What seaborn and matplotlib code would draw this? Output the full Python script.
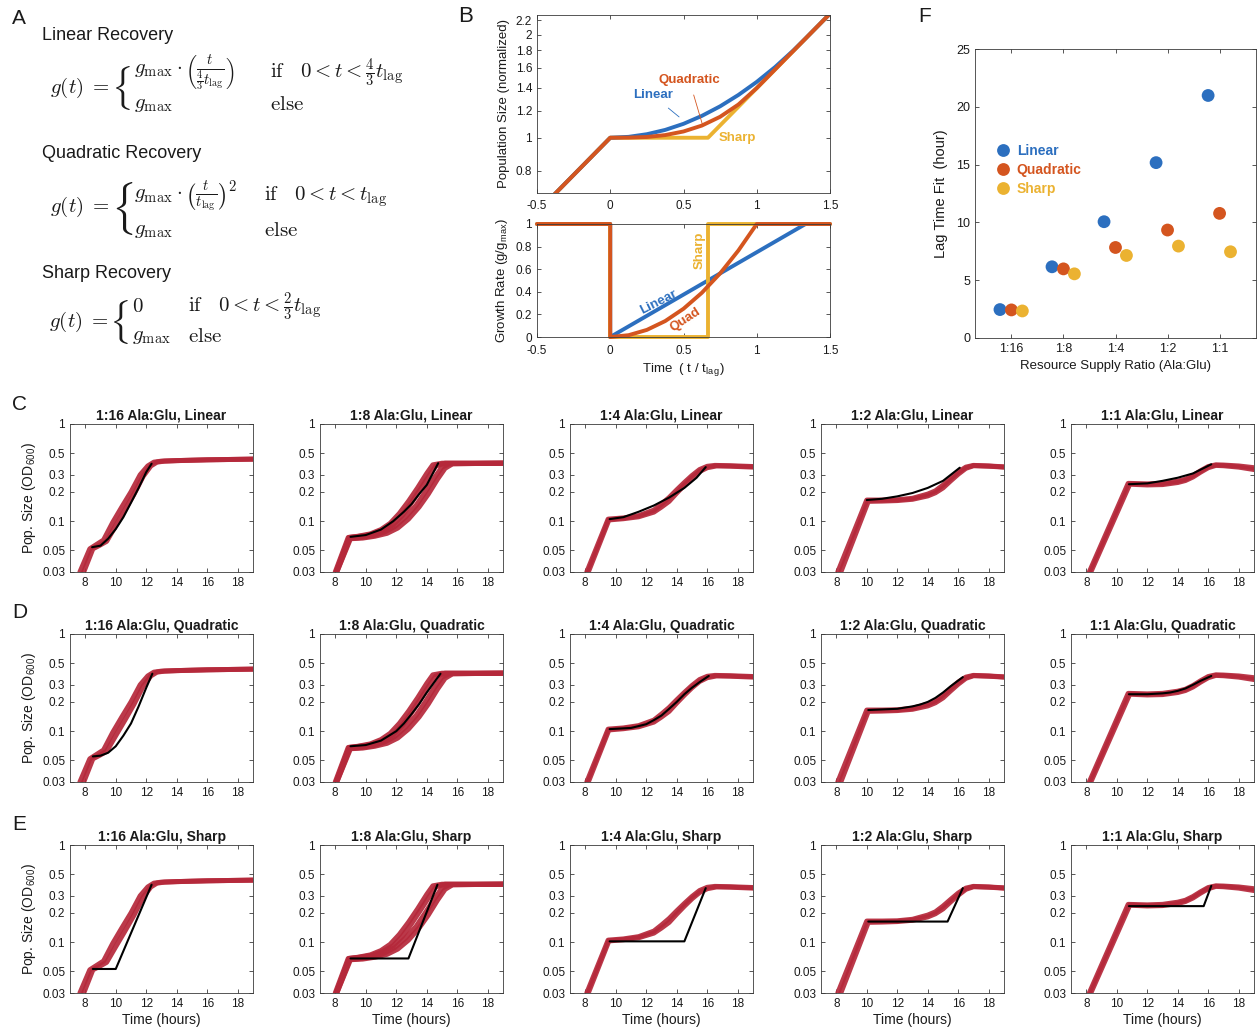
import numpy as np
import pandas as pd
import matplotlib.pyplot as plt
import seaborn as sns

# -----------------------------
# Data
# -----------------------------
ratios = ["1:16", "1:8", "1:4", "1:2", "1:1"]
models = ["Linear", "Quadratic", "Sharp"]

# panel B, top: normalized population size vs t / t_lag
b_lin_t = [-0.5, 0, 0.125, 0.25, 0.375, 0.5, 0.625, 0.75, 0.875, 1.0, 1.125, 1.25, 1.333, 1.5]
b_lin_n = [0.607, 1.0, 1.006, 1.024, 1.054, 1.098, 1.158, 1.235, 1.333, 1.455, 1.607, 1.797, 1.948, 2.30]
b_quad_t = [-0.5, 0, 0.125, 0.25, 0.375, 0.5, 0.625, 0.75, 0.875, 1.0, 1.25, 1.5]
b_quad_n = [0.607, 1.0, 1.001, 1.005, 1.018, 1.043, 1.085, 1.151, 1.250, 1.396, 1.792, 2.30]
b_sharp_t = [-0.5, 0, 0.667, 1.5]
b_sharp_n = [0.607, 1.0, 1.0, 2.30]

# panel B, bottom: growth rate g / g_max
g_lin_t = [-0.5, 0, 0, 1.333, 1.5]
g_lin = [1, 1, 0, 1, 1]
g_quad_t = [-0.5, 0, 0, 0.125, 0.25, 0.375, 0.5, 0.625, 0.75, 0.875, 1.0, 1.5]
g_quad = [1, 1, 0, 0.016, 0.063, 0.141, 0.25, 0.391, 0.563, 0.766, 1, 1]
g_sharp_t = [-0.5, 0, 0, 0.667, 0.667, 1.5]
g_sharp = [1, 1, 0, 0, 1, 1]

# panel F: fitted lag times (hours)
lag_linear = [2.46, 6.16, 10.06, 15.17, 20.98]
lag_quadratic = [2.43, 5.98, 7.83, 9.34, 10.78]
lag_sharp = [2.34, 5.55, 7.14, 7.95, 7.46]

# panels C-E: measured OD600 replicates, one list of replicates per ratio
rep_t_116 = [[7.65, 8.3, 8.7, 9.2, 9.8, 10.4, 11.0, 11.6, 12.1, 12.5, 13.0, 14.0, 16.0, 19.0],
             [7.9, 8.5, 8.9, 9.4, 10.0, 10.6, 11.2, 11.8, 12.3, 12.7, 13.2, 14.0, 16.0, 19.0]]
rep_od_116 = [[0.03, 0.052, 0.057, 0.064, 0.097, 0.14, 0.2, 0.3, 0.37, 0.405, 0.415, 0.42, 0.428, 0.435],
              [0.03, 0.052, 0.056, 0.062, 0.09, 0.13, 0.19, 0.29, 0.37, 0.405, 0.415, 0.42, 0.428, 0.435]]

rep_t_18 = [[8.0, 8.85, 9.5, 10.3, 11.0, 11.6, 12.2, 12.8, 13.4, 14.0, 14.4, 15.0, 19.0],
            [8.05, 8.9, 9.6, 10.4, 11.1, 11.8, 12.4, 13.0, 13.6, 14.2, 14.6, 15.2, 19.0],
            [8.1, 8.95, 9.7, 10.5, 11.2, 11.9, 12.6, 13.3, 13.9, 14.5, 15.0, 15.5, 19.0],
            [8.1, 9.0, 9.8, 10.6, 11.4, 12.1, 12.8, 13.5, 14.1, 14.7, 15.2, 15.7, 19.0]]
rep_od_18 = [[0.03, 0.068, 0.07, 0.074, 0.082, 0.095, 0.12, 0.16, 0.22, 0.31, 0.38, 0.395, 0.395],
             [0.03, 0.068, 0.07, 0.073, 0.08, 0.092, 0.115, 0.155, 0.215, 0.3, 0.37, 0.395, 0.395],
             [0.03, 0.066, 0.068, 0.071, 0.077, 0.088, 0.11, 0.145, 0.2, 0.28, 0.36, 0.39, 0.395],
             [0.03, 0.066, 0.067, 0.07, 0.075, 0.085, 0.105, 0.14, 0.19, 0.27, 0.35, 0.39, 0.395]]

rep_t_14 = [[8.1, 9.5, 10.5, 11.5, 12.5, 13.0, 13.5, 14.0, 14.5, 15.0, 15.5, 16.0, 16.5, 17.5, 19.0],
            [8.2, 9.55, 10.5, 11.5, 12.5, 13.0, 13.5, 14.0, 14.5, 15.0, 15.5, 16.0, 16.6, 17.5, 19.0]]
rep_od_14 = [[0.03, 0.105, 0.108, 0.114, 0.13, 0.15, 0.175, 0.21, 0.25, 0.295, 0.34, 0.367, 0.375, 0.372, 0.365],
             [0.03, 0.103, 0.106, 0.111, 0.124, 0.14, 0.16, 0.195, 0.235, 0.28, 0.325, 0.355, 0.37, 0.368, 0.36]]

rep_t_12 = [[8.1, 10.0, 11, 12, 13, 14, 14.5, 15, 15.5, 16, 16.5, 17, 18, 19],
            [8.3, 10.1, 11, 12, 13, 14, 14.5, 15, 15.5, 16, 16.5, 17, 18, 19]]
rep_od_12 = [[0.03, 0.165, 0.165, 0.166, 0.172, 0.19, 0.205, 0.235, 0.275, 0.32, 0.36, 0.375, 0.37, 0.362],
             [0.03, 0.16, 0.161, 0.163, 0.168, 0.182, 0.196, 0.22, 0.26, 0.305, 0.35, 0.372, 0.368, 0.36]]

rep_t_11 = [[8.2, 10.75, 12, 13, 14, 14.5, 15, 15.5, 16, 16.5, 17, 18, 19],
            [8.3, 10.85, 12, 13, 14, 14.5, 15, 15.5, 16, 16.5, 17, 18, 19]]
rep_od_11 = [[0.03, 0.245, 0.242, 0.245, 0.258, 0.27, 0.295, 0.33, 0.365, 0.38, 0.378, 0.37, 0.355],
             [0.03, 0.24, 0.236, 0.238, 0.25, 0.262, 0.285, 0.32, 0.355, 0.375, 0.372, 0.36, 0.34]]

rep_times = [rep_t_116, rep_t_18, rep_t_14, rep_t_12, rep_t_11]
rep_ods = [rep_od_116, rep_od_18, rep_od_14, rep_od_12, rep_od_11]

# model fits (black), one curve per ratio
fit_lin_t = [[8.45, 9.0, 9.5, 10.0, 10.5, 11.0, 11.5, 12.0, 12.35],
             [9.0, 10.0, 11.0, 11.8, 12.5, 13.0, 13.5, 14.0, 14.75],
             [9.6, 10.5, 11.5, 12.5, 13.5, 14.5, 15.3, 15.9],
             [10.0, 11.0, 12.0, 13.0, 14.0, 15.0, 16.1],
             [10.8, 12.0, 13.0, 14.0, 15.0, 16.2]]
fit_lin_od = [[0.054, 0.056, 0.066, 0.083, 0.11, 0.155, 0.22, 0.32, 0.39],
              [0.069, 0.072, 0.082, 0.1, 0.125, 0.15, 0.19, 0.236, 0.395],
              [0.105, 0.11, 0.125, 0.145, 0.175, 0.22, 0.28, 0.36],
              [0.165, 0.17, 0.18, 0.195, 0.22, 0.26, 0.355],
              [0.24, 0.245, 0.26, 0.28, 0.31, 0.385]]

fit_quad_t = [[8.5, 9.0, 9.5, 10.0, 10.5, 11.0, 11.5, 12.0, 12.4],
              [9.0, 10.0, 11.0, 12.0, 12.5, 13.0, 13.5, 14.0, 14.5, 14.9],
              [9.6, 11.0, 12.0, 12.5, 13.0, 13.5, 14.0, 14.5, 15.0, 15.5, 16.1],
              [10.1, 12.0, 13.0, 13.5, 14.0, 14.5, 15.0, 15.5, 16.3],
              [10.8, 12.0, 13.0, 13.5, 14.0, 14.5, 15.0, 15.5, 16.2]]
fit_quad_od = [[0.055, 0.056, 0.06, 0.07, 0.09, 0.12, 0.18, 0.28, 0.39],
               [0.07, 0.072, 0.08, 0.1, 0.12, 0.15, 0.19, 0.25, 0.32, 0.39],
               [0.105, 0.108, 0.118, 0.13, 0.145, 0.17, 0.2, 0.24, 0.28, 0.32, 0.37],
               [0.165, 0.17, 0.18, 0.188, 0.2, 0.22, 0.25, 0.29, 0.36],
               [0.24, 0.24, 0.245, 0.25, 0.26, 0.275, 0.3, 0.33, 0.37]]

fit_sharp_t = [[8.5, 10.0, 12.35],
               [9.0, 12.8, 14.7],
               [9.6, 14.5, 15.9],
               [10.1, 15.3, 16.3],
               [10.8, 15.7, 16.2]]
fit_sharp_od = [[0.053, 0.053, 0.39],
                [0.068, 0.068, 0.39],
                [0.102, 0.102, 0.36],
                [0.163, 0.163, 0.36],
                [0.235, 0.235, 0.38]]

fit_times = [fit_lin_t, fit_quad_t, fit_sharp_t]
fit_ods = [fit_lin_od, fit_quad_od, fit_sharp_od]

# -----------------------------
# Style
# -----------------------------
BLUE = "#2c6fbf"
ORANGE = "#d4551f"
YELLOW = "#ebb231"
RED = "#b5283a"
EDGE = "#3a3a3a"

sns.set_style("ticks")
plt.rcParams["font.family"] = ["Liberation Sans", "DejaVu Sans"]
plt.rcParams["mathtext.fontset"] = "cm"
plt.rcParams["text.color"] = "#1a1a1a"
plt.rcParams["axes.labelcolor"] = "#1a1a1a"

W, H = 1257, 1033
fig = plt.figure(figsize=(W / 100, H / 100), dpi=100)


def px_axes(left, top, width, height):
    return fig.add_axes([left / W, 1 - (top + height) / H, width / W, height / H])


def px_text(x, y, s, **kw):
    kw.setdefault("va", "center")
    kw.setdefault("ha", "left")
    return fig.text(x / W, 1 - y / H, s, **kw)


def matlab_box(ax, size=8.5):
    for s in ax.spines.values():
        s.set_visible(True)
        s.set_linewidth(0.6)
        s.set_color(EDGE)
    ax.tick_params(direction="in", top=True, right=True, length=3, width=0.6,
                   color=EDGE, labelsize=size, labelcolor="#1a1a1a", pad=3.5)


def long_table(t_lists, y_lists):
    parts = [pd.DataFrame({"x": ts, "y": ys, "rep": k})
             for k, (ts, ys) in enumerate(zip(t_lists, y_lists))]
    return pd.concat(parts, ignore_index=True)


# -----------------------------
# Panel A: recovery models
# -----------------------------
px_text(12, 18, "A", fontsize=15)
heads = [("Linear Recovery", 35), ("Quadratic Recovery", 153), ("Sharp Recovery", 273)]
for txt, y in heads:
    px_text(42, y, txt, fontsize=13)

MS = 15
gmax = r"$g_{\mathrm{max}}$"
els = r"$\mathrm{else}$"
lhs = r"$g(t)\;=$"

# linear
px_text(50, 88, lhs, fontsize=MS)
px_text(111, 88, r"$\{$", fontsize=27)
px_text(134, 73, r"$g_{\mathrm{max}}\cdot\left(\frac{t}{\frac{4}{3}t_{\mathrm{lag}}}\right)$", fontsize=MS)
px_text(134, 104, gmax, fontsize=MS)
px_text(270, 73, r"$\mathrm{if}\quad 0<t<\frac{4}{3}t_{\mathrm{lag}}$", fontsize=MS)
px_text(270, 104, els, fontsize=MS)

# quadratic
px_text(50, 207, lhs, fontsize=MS)
px_text(111, 208, r"$\{$", fontsize=31)
px_text(134, 197, r"$g_{\mathrm{max}}\cdot\left(\frac{t}{t_{\mathrm{lag}}}\right)^2$", fontsize=MS)
px_text(134, 230, gmax, fontsize=MS)
px_text(264, 197, r"$\mathrm{if}\quad 0<t<t_{\mathrm{lag}}$", fontsize=MS)
px_text(264, 230, els, fontsize=MS)

# sharp
px_text(49, 322, lhs, fontsize=MS)
px_text(109, 322, r"$\{$", fontsize=27)
px_text(132, 307, r"$0$", fontsize=MS)
px_text(132, 337, gmax, fontsize=MS)
px_text(188, 307, r"$\mathrm{if}\quad 0<t<\frac{2}{3}t_{\mathrm{lag}}$", fontsize=MS)
px_text(188, 337, els, fontsize=MS)

# -----------------------------
# Panel B: model curves
# -----------------------------
px_text(458, 16, "B", fontsize=16)
axb1 = px_axes(537, 15, 293, 178)
axb1.set_yscale("log")
for ts, ys, col in [(b_sharp_t, b_sharp_n, YELLOW), (b_lin_t, b_lin_n, BLUE), (b_quad_t, b_quad_n, ORANGE)]:
    sns.lineplot(x=ts, y=ys, ax=axb1, color=col, lw=2.8, estimator=None, sort=False)
axb1.set_xlim(-0.5, 1.5)
axb1.set_ylim(0.69, 2.28)
axb1.minorticks_off()
b_yt = [0.8, 1, 1.2, 1.4, 1.6, 1.8, 2, 2.2]
axb1.set_yticks(b_yt)
axb1.set_yticklabels(["0.8", "1", "1.2", "1.4", "1.6", "1.8", "2", "2.2"])
axb1.set_xticks([-0.5, 0, 0.5, 1, 1.5])
axb1.set_xticklabels(["-0.5", "0", "0.5", "1", "1.5"])
axb1.set_ylabel("Population Size (normalized)", fontsize=9.5, labelpad=4)
matlab_box(axb1)
axb1.tick_params(axis="x", pad=5)
axb1.annotate("Quadratic", xy=(0.63, 1.09), xytext=(0.54, 1.47), color=ORANGE, fontsize=9.5,
              fontweight="bold", ha="center", va="center",
              arrowprops=dict(arrowstyle="-", color=ORANGE, lw=0.6, shrinkA=4, shrinkB=0))
axb1.annotate("Linear", xy=(0.47, 1.15), xytext=(0.29, 1.33), color=BLUE, fontsize=9.5,
              fontweight="bold", ha="center", va="center",
              arrowprops=dict(arrowstyle="-", color=BLUE, lw=0.6, shrinkA=4, shrinkB=0))
axb1.text(0.87, 1.0, "Sharp", color=YELLOW, fontsize=9.5, fontweight="bold", ha="center", va="center")

axb2 = px_axes(537, 224, 293, 113)
for ts, ys, col in [(g_lin_t, g_lin, BLUE), (g_sharp_t, g_sharp, YELLOW), (g_quad_t, g_quad, ORANGE)]:
    sns.lineplot(x=ts, y=ys, ax=axb2, color=col, lw=2.8, estimator=None, sort=False, clip_on=False)
axb2.set_xlim(-0.5, 1.5)
axb2.set_ylim(0, 1)
axb2.set_yticks([0, 0.2, 0.4, 0.6, 0.8, 1])
axb2.set_yticklabels(["0", "0.2", "0.4", "0.6", "0.8", "1"])
axb2.set_xticks([-0.5, 0, 0.5, 1, 1.5])
axb2.set_xticklabels(["-0.5", "0", "0.5", "1", "1.5"])
axb2.set_ylabel(r"Growth Rate (g/g$_{\mathregular{max}}$)", fontsize=9.5, labelpad=4)
axb2.set_xlabel(r"Time  ( t / t$_{\mathregular{lag}}$)", fontsize=9.5, labelpad=3)
matlab_box(axb2)
axb2.tick_params(axis="x", pad=6)
axb2.text(0.61, 0.77, "Sharp", color=YELLOW, fontsize=9.5, fontweight="bold", rotation=90,
          ha="center", va="center")
axb2.text(0.33, 0.31, "Linear", color=BLUE, fontsize=9.5, fontweight="bold", rotation=27,
          ha="center", va="center")
axb2.text(0.51, 0.15, "Quad", color=ORANGE, fontsize=9.5, fontweight="bold", rotation=33,
          ha="center", va="center")

# -----------------------------
# Panel F: lag time fits
# -----------------------------
px_text(918, 17, "F", fontsize=15)
axf = px_axes(975, 49, 281, 289)
pos = np.arange(len(ratios))
dodge = {"Linear": -0.22, "Quadratic": 0.0, "Sharp": 0.21}
lags = {"Linear": lag_linear, "Quadratic": lag_quadratic, "Sharp": lag_sharp}
fcols = {"Linear": BLUE, "Quadratic": ORANGE, "Sharp": YELLOW}
df_f = pd.concat([pd.DataFrame({"x": pos + dodge[m], "lag": lags[m], "model": m}) for m in models],
                 ignore_index=True)
sns.scatterplot(data=df_f, x="x", y="lag", hue="model", palette=fcols, s=85,
                edgecolor="none", ax=axf)
axf.set_xlim(-0.7, 4.7)
axf.set_ylim(0, 25)
axf.set_xticks(pos)
axf.set_xticklabels(ratios)
axf.set_yticks([0, 5, 10, 15, 20, 25])
axf.set_ylabel("Lag Time Fit  (hour)", fontsize=10.5, labelpad=6)
axf.set_xlabel("Resource Supply Ratio (Ala:Glu)", fontsize=9.5, labelpad=4)
matlab_box(axf, size=9)
handles, labels = axf.get_legend_handles_labels()
axf.legend(handles, labels, loc="upper left", bbox_to_anchor=(0.03, 0.69), frameon=False,
           labelcolor=[fcols[m] for m in labels], prop={"weight": "bold", "size": 10},
           handletextpad=0.0, labelspacing=0.35, borderaxespad=0, markerscale=1.0)

# -----------------------------
# Panels C, D, E: growth curves with fits
# -----------------------------
col_left = [70, 320, 570, 821, 1071]
row_top = [424, 634, 845]
for r, (letter, y) in enumerate([("C", 405), ("D", 612), ("E", 825)]):
    px_text(12, y, letter, fontsize=15)

for r, model in enumerate(models):
    for c, ratio in enumerate(ratios):
        ax = px_axes(col_left[c], row_top[r], 183, 148)
        ax.set_yscale("log")
        reps = long_table(rep_times[c], rep_ods[c])
        sns.lineplot(data=reps, x="x", y="y", units="rep", estimator=None, sort=False,
                     color=RED, lw=3.6, alpha=0.92, ax=ax)
        sns.lineplot(x=fit_times[r][c], y=fit_ods[r][c], color="black", lw=1.5,
                     estimator=None, sort=False, ax=ax)
        ax.set_xlim(7, 19)
        ax.set_ylim(0.03, 1)
        ax.minorticks_off()
        ax.set_yticks([0.03, 0.05, 0.1, 0.2, 0.3, 0.5, 1])
        ax.set_yticklabels(["0.03", "0.05", "0.1", "0.2", "0.3", "0.5", "1"])
        ax.set_xticks([8, 10, 12, 14, 16, 18])
        ax.set_xticklabels(["8", "10", "12", "14", "16", "18"])
        ax.set_title(f"{ratio} Ala:Glu, {model}", fontsize=10, fontweight="bold", pad=3)
        ax.set_xlabel("Time (hours)" if r == 2 else "", fontsize=10, labelpad=2)
        ax.set_ylabel(r"Pop. Size (OD$_{\mathregular{600}}$)" if c == 0 else "", fontsize=10, labelpad=3)
        matlab_box(ax)

fig.savefig("out.png", dpi=100)
